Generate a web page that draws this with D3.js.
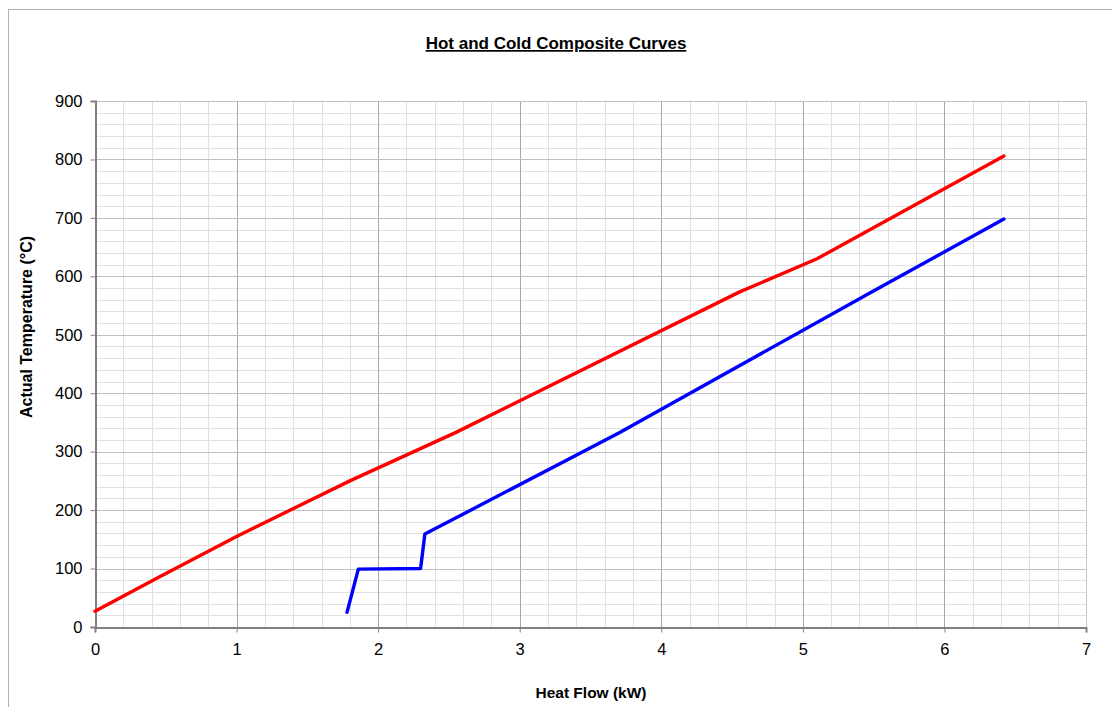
<!DOCTYPE html>
<html><head><meta charset="utf-8">
<script src="https://cdn.jsdelivr.net/npm/d3@7"></script>
<style>body{margin:0;background:#fff}svg{display:block}</style>
</head><body>
<svg id="c" width="1112" height="707"></svg>
<script>
const hotX = [0, 0.45, 1.0, 1.8, 2.55, 4.55, 5.1, 6.42];
const hotT = [27, 85, 155, 250, 333, 573, 630, 806];
const coldX = [1.78, 1.86, 2.30, 2.33, 3.7, 5.47, 6.42];
const coldT = [25, 99, 100, 159, 332, 571, 698];
const xTicks = [0,1,2,3,4,5,6,7];
const yTicks = [0,100,200,300,400,500,600,700,800,900];

const svg = d3.select("#c");
const L=95,R=1086,T=101,B=627;
const x = d3.scaleLinear().domain([0,7]).range([L,R]);
const y = d3.scaleLinear().domain([0,900]).range([B,T]);
const FF = "Liberation Sans, Arial, sans-serif";

svg.append("rect").attr("x",8.5).attr("y",9.5).attr("width",1200).attr("height",800)
  .attr("fill","none").attr("stroke","#b0b0b0").attr("stroke-width",1);

const g = svg.append("g");
const minorX = d3.range(0,7.001,0.2).filter(v=>Math.abs(v-Math.round(v))>1e-6);
const minorY = d3.range(0,900.1,20).filter(v=>v%100!==0);
g.selectAll(".mx").data(minorX).join("line").attr("x1",d=>Math.round(x(d))+0.5).attr("x2",d=>Math.round(x(d))+0.5)
  .attr("y1",T).attr("y2",B).attr("stroke","#e0e0e0");
g.selectAll(".my").data(minorY).join("line").attr("y1",d=>Math.round(y(d))+0.5).attr("y2",d=>Math.round(y(d))+0.5)
  .attr("x1",L).attr("x2",R).attr("stroke","#e0e0e0");
g.selectAll(".Mx").data(xTicks.slice(1,-1)).join("line").attr("x1",d=>Math.round(x(d))+0.5).attr("x2",d=>Math.round(x(d))+0.5)
  .attr("y1",T).attr("y2",B).attr("stroke","#a8a8a8");
g.selectAll(".My").data(yTicks.slice(1)).join("line").attr("y1",d=>Math.round(y(d))+0.5).attr("y2",d=>Math.round(y(d))+0.5)
  .attr("x1",L).attr("x2",R).attr("stroke","#c0c0c0");
g.append("line").attr("x1",R+0.5).attr("x2",R+0.5).attr("y1",T).attr("y2",B).attr("stroke","#c8c8c8");

const xAxis = d3.axisBottom(x).tickValues(xTicks).tickSize(5).tickPadding(11).tickFormat(d3.format("d"));
const yAxis = d3.axisLeft(y).tickValues(yTicks).tickSize(5).tickPadding(8).tickFormat(d3.format("d"));
const ax = svg.append("g").attr("transform",`translate(0,${B+0.5})`).call(xAxis);
const ay = svg.append("g").attr("transform",`translate(${L+0.5},0)`).call(yAxis);
[ax,ay].forEach(a=>{
  a.attr("font-size",null).attr("font-family",null);
  a.select(".domain").attr("stroke","#808080").attr("stroke-width",2);
  a.selectAll(".tick line").attr("stroke","#808080");
  a.selectAll(".tick text").style("font-family",FF).style("font-size","16.5px").attr("fill","#000");
});

const line = d3.line().x(d=>x(d[0])).y(d=>y(d[1]));
const hot = hotX.map((v,i)=>[v,hotT[i]]);
const cold = coldX.map((v,i)=>[v,coldT[i]]);
svg.append("path").datum(hot).attr("d",line).attr("fill","none").attr("stroke","#ff0000").attr("stroke-width",3.4).attr("stroke-linejoin","round").attr("stroke-linecap","round");
svg.append("path").datum(cold).attr("d",line).attr("fill","none").attr("stroke","#0000ff").attr("stroke-width",3.4).attr("stroke-linejoin","round").attr("stroke-linecap","round");

svg.append("text").attr("x",556).attr("y",49).attr("text-anchor","middle")
  .style("font-family",FF).style("font-size","17px").attr("font-weight","bold")
  .attr("text-decoration","underline").text("Hot and Cold Composite Curves");
svg.append("text").attr("x",591).attr("y",698).attr("text-anchor","middle")
  .style("font-family",FF).style("font-size","15.5px").attr("font-weight","bold")
  .text("Heat Flow (kW)");
svg.append("text").attr("transform","translate(32,327) rotate(-90)").attr("text-anchor","middle")
  .style("font-family",FF).style("font-size","16px").attr("font-weight","bold")
  .text("Actual Temperature (°C)");
</script>
</body></html>
